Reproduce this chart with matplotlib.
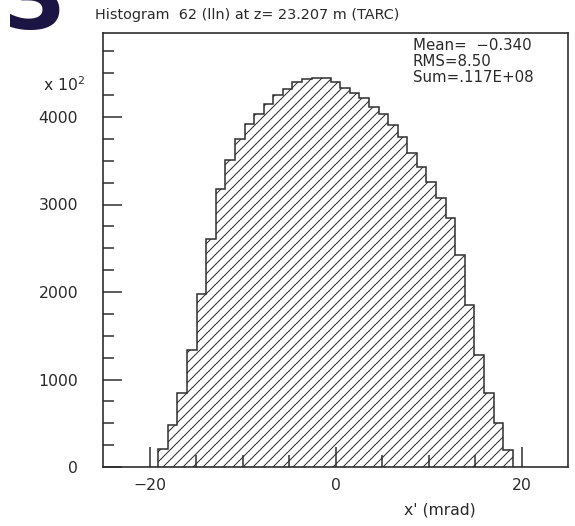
import numpy as np
import matplotlib
matplotlib.use("Agg")
import matplotlib.pyplot as plt
from matplotlib.ticker import FixedLocator

# bin contents (37 equal bins)
x_lo, x_hi = -19.05, 19.05
counts = [210, 480, 842, 1337, 1982, 2610, 3182, 3505, 3753, 3925,
          4039, 4153, 4248, 4325, 4400, 4439, 4450, 4446, 4400, 4330,
          4270, 4213, 4118, 4040, 3905, 3775, 3585, 3432, 3260, 3070,
          2842, 2422, 1851, 1280, 842, 499, 200]
x_major = [-20, 0, 20]
x_minor = [-15, -10, -5, 5, 10, 15]
y_major = [0, 1000, 2000, 3000, 4000]
y_minor = [250, 500, 750, 1250, 1500, 1750, 2250, 2500, 2750,
           3250, 3500, 3750, 4250, 4500, 4750]
title = "Histogram  62 (lln) at z= 23.207 m (TARC)"
stats = ["Mean=  \u22120.340", "RMS=8.50", "Sum=.117E+08"]
xlabel = "x' (mrad)"

W, H, DPI = 575, 526, 90
INK = "#2a2a2a"
plt.rcParams["hatch.linewidth"] = 0.8
plt.rcParams["font.family"] = ["DejaVu Sans"]


def fx(px):
    return px / W


def fy(py):
    return 1 - py / H


fig = plt.figure(figsize=(W / DPI, H / DPI), dpi=DPI)
ax = fig.add_axes([fx(103), fy(467), fx(568) - fx(103), fy(33) - fy(467)])

edges = np.linspace(x_lo, x_hi, len(counts) + 1)
ax.stairs(counts, edges, fill=True, facecolor="white", edgecolor=INK,
          hatch="///", linewidth=1.2)

ax.set_xlim(-25, 25)
ax.set_ylim(0, 4960)
ax.xaxis.set_major_locator(FixedLocator(x_major))
ax.xaxis.set_minor_locator(FixedLocator(x_minor))
ax.yaxis.set_major_locator(FixedLocator(y_major))
ax.yaxis.set_minor_locator(FixedLocator(y_minor))
ax.set_xticklabels(["\u221220", "0", "20"])
ax.tick_params(axis="both", which="both", direction="in", color=INK,
               width=1.2, labelcolor=INK, labelsize=12.5,
               top=False, right=False)
ax.tick_params(axis="x", which="major", length=16, pad=9)
ax.tick_params(axis="x", which="minor", length=9.5)
ax.tick_params(axis="y", which="major", length=15, pad=20)
ax.tick_params(axis="y", which="minor", length=9)
for side in ax.spines.values():
    side.set_color(INK)
    side.set_linewidth(1.3)

fig.text(fx(95), fy(15), title, fontsize=11.5, color=INK, va="center", ha="left")
fig.text(fx(413), fy(38), "\n".join(stats), fontsize=12, color=INK,
         va="top", ha="left", linespacing=1.1)
fig.text(fx(43), fy(85), "x 10$^{2}$", fontsize=12.5, color=INK,
         va="center", ha="left")
fig.text(fx(440), fy(510), xlabel, fontsize=12.5, color=INK,
         va="center", ha="center")
# fragment of a large heading from the neighbouring slide
fig.text(fx(4), fy(29), "3", fontsize=72, fontweight="bold", color="#1b1544",
         va="baseline", ha="left")

fig.savefig("out.png", dpi=DPI)
